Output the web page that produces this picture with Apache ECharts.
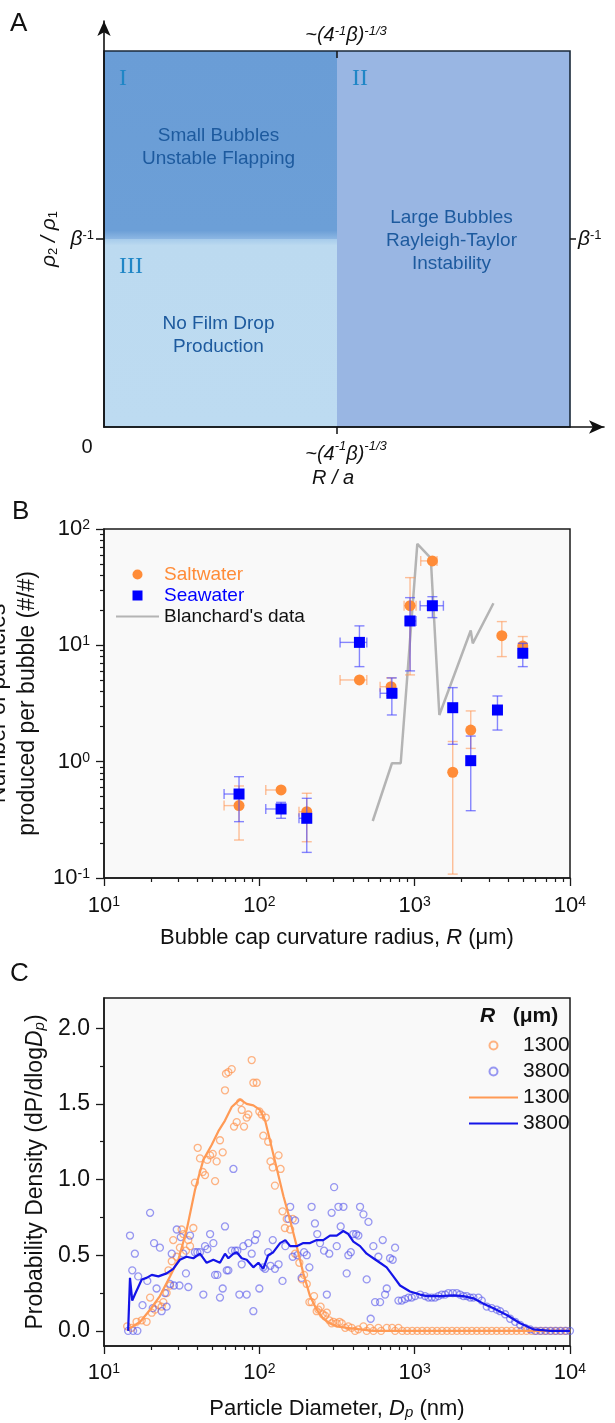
<!DOCTYPE html>
<html><head><meta charset="utf-8">
<script src="https://cdn.jsdelivr.net/npm/echarts@6/dist/echarts.min.js"></script>
<style>html,body{margin:0;padding:0;background:#fff}#c{width:615px;height:1423px}</style>
</head><body><div id="c"></div>
<script>
// ---------- Panel A: regime map (schematic units) ----------
const regimeNames = ['I', 'II', 'III'];
const regimeX0 = [0, 1, 0];
const regimeX1 = [1, 2, 1];
const regimeY0 = [1, 0, 0];
const regimeY1 = [2, 2, 1];
const regimeLines = [['Small Bubbles', 'Unstable Flapping'], ['Large Bubbles', 'Rayleigh-Taylor', 'Instability'], ['No Film Drop', 'Production']];
const frameBox = [[0, 2, 0, 2]];
const aTickX = [1];
const aTickY = [1];

// ---------- Panel B: particles per bubble ----------
const saltR   = [74, 138, 202, 441, 705, 934, 1300, 1758, 2296, 3640, 4966];
const saltN   = [0.419, 0.571, 0.372, 5.04, 4.41, 21.9, 53.2, 0.811, 1.87, 12.1, 9.89];
const saltNLo = [0.212, 0.571, 0.205, 5.04, 3.7, 5.57, 53.2, 0.108, 1.3, 8.0, 8.6];
const saltNHi = [0.618, 0.571, 0.535, 5.04, 5.25, 38.2, 53.2, 1.49, 2.73, 16.0, 11.9];
const saltRLo = [59.3, 110, 180, 331, 599, 855, 1094, 1758, 2296, 3640, 4966];
const saltRHi = [74, 138, 202, 492, 705, 1021, 1393, 1758, 2296, 3640, 4966];

const seaR   = [74, 138, 202, 441, 713, 934, 1300, 1758, 2296, 3412, 4966];
const seaN   = [0.527, 0.392, 0.326, 10.6, 3.87, 16.2, 21.9, 2.91, 1.02, 2.78, 8.55];
const seaNLo = [0.305, 0.326, 0.166, 6.56, 2.52, 6.03, 17.3, 1.41, 0.379, 1.87, 6.56];
const seaNHi = [0.743, 0.447, 0.484, 14.7, 5.25, 25.7, 26.2, 4.33, 1.66, 3.67, 10.4];
const seaRLo = [59.3, 110, 180, 331, 599, 867, 1084, 1758, 2296, 3412, 4966];
const seaRHi = [74, 138, 202, 492, 767, 1021, 1531, 1758, 2296, 3412, 4966];

const blanchardR = [537, 714, 813, 1040, 1270, 1442, 2296, 2366, 3215];
const blanchardN = [0.309, 0.969, 0.969, 74.5, 56.1, 2.52, 13.4, 10.4, 23.0];

// ---------- Panel C: size distributions ----------
const c1300D = [14.1,15.1,16.2,17.5,18.8,19.8,20.3,21.3,22.4,23.5,24.1,25.3,26.0,26.6,27.3,27.9,29.4,30.8,31.6,32.4,33.7,34.9,35.8,37.6,38.5,40.1,41.5,43.2,44.7,46.2,48.2,50.1,51.9,53.1,55.8,58.1,60.1,61.0,63.2,66.4,68.7,71.5,75.1,77.0,79.7,82.9,85.0,89.3,91.5,96.2,100,103.5,106,110,114,118,122,126,133,137,141,146,150,158,164,170,181,188,194,202,210,217,225,234,240,248,256,265,272,282,292,300,315,328,339,357,374,393,413,434,468,491,516,543,584,608,661,716,748,786,
  832,895,964,1038,1117,1202,1294,1393,1500,1614,1738,1871,2014,2168,2333,2512,2704,2911,3133,3373,3631,3908,4207,4529,4875,5248,5649,6081,6546,7047,7586,8166,8790,9462];
const c1300P = [0.03,0.02,0.06,0.07,0.06,0.22,0.12,0.14,0.17,0.16,0.19,0.25,0.40,0.30,0.46,0.60,0.49,0.55,0.67,0.64,0.53,0.60,0.56,0.68,0.98,1.21,1.14,1.05,1.03,1.13,1.16,1.17,0.99,1.12,1.26,1.18,1.59,1.70,1.71,1.73,1.35,1.38,1.51,1.46,1.35,1.41,1.43,1.79,1.64,1.64,1.45,1.43,1.29,1.41,1.25,1.12,1.08,0.96,1.16,1.07,0.79,0.68,0.74,0.67,0.74,0.51,0.45,0.34,0.37,0.31,0.19,0.19,0.23,0.13,0.14,0.16,0.11,0.10,0.12,0.07,0.05,0.06,0.05,0.06,0.05,0.02,0.03,0.02,0.00,0.01,0.03,0.00,0.02,0.00,0.02,0.00,0.02,0.02,0.00,0.02,
  0,0,0,0,0,0,0,0,0,0,0,0,0,0,0,0,0,0,0,0,0,0,0,0,0,0,0,0,0,0,0,0,0,0];
const c3800D = [14.3,15.4,16.4,14.7,15.2,15.8,16.6,17.7,19.0,19.8,20.6,21.0,21.8,22.9,23.5,24.7,25.3,26.6,27.3,28.2,29.4,30.6,31.2,32.4,33.7,34.9,35.8,38.5,39.9,41.5,43.6,44.7,46.3,48.2,50.6,51.9,53.7,55.8,58.1,60.1,61.7,63.2,66.4,68.1,69.8,72.2,74.4,77.0,78.9,82.9,85.0,89.3,91.5,93.8,96.2,100,106,109,114,118,122,126,133,141,147,154,158,164,170,176,187,194,202,210,217,228,236,246,261,272,282,292,303,315,323,334,348,365,374,388,403,420,434,445,468,491,504,521,542,556,584,599,623,645,661,694,722,748,786,
  826,867,911,957,1006,1084,1167,1226,1288,1353,1422,1494,1570,1649,1759,1866,1960,2060,2164,2274,2389,2573,2704,2911,3135,3377,3548,3822,4116,4433,4774,5142,5538,5964,6424,6918,7451,8025,8643,9309,10000];
const c3800P = [0,0,0,0.63,0.40,0.51,0.36,0.17,0.33,0.78,0.15,0.58,0.28,0.55,0.13,0.25,0.16,0.31,0.51,0.30,0.67,0.30,0.62,0.51,0.38,0.29,0.63,0.52,0.52,0.52,0.24,0.56,0.54,0.64,0.58,0.37,0.37,0.22,0.28,0.69,0.40,0.40,0.53,1.07,0.53,0.53,0.24,0.44,0.56,0.24,0.58,0.51,0.13,0.60,0.64,0.28,0.42,0.41,0.52,0.43,0.60,0.41,0.44,0.33,0.56,0.74,0.82,0.49,0.73,0.50,0.35,0.52,0.50,0.42,0.82,0.71,0.64,0.58,0.53,0.24,0.51,0.78,0.95,0.56,0.82,0.69,0.82,0.38,0.50,0.52,0.64,0.64,0.63,0.82,0.77,0.34,0.72,0.08,0.56,0.19,0.49,0.19,0.60,0.24,0.28,0.48,0.47,0.55,0.20,
  0.20,0.21,0.22,0.22,0.23,0.24,0.23,0.22,0.22,0.22,0.23,0.24,0.24,0.25,0.25,0.25,0.24,0.23,0.23,0.22,0.22,0.22,0.20,0.16,0.15,0.14,0.13,0.11,0.08,0.06,0.04,0.02,0.01,0,0,0,0,0,0,0,0];
const l1300D = [14.3,17.1,19.8,22.9,26.6,30.1,34.1,38.5,43.6,49.4,54.5,60.1,66.4,71.5,75.1,82.9,91.5,101,109,117,129,143,158,174,192,212,234,258,285,315,366,445,542,1000,10000];
const l1300P = [0.01,0.06,0.14,0.23,0.36,0.47,0.67,0.93,1.13,1.23,1.32,1.39,1.48,1.51,1.53,1.50,1.49,1.46,1.39,1.26,1.08,0.89,0.73,0.56,0.38,0.23,0.14,0.08,0.05,0.03,0.02,0.01,0,0,0];
const l3800D = [14.3,14.7,15.2,15.8,17.5,18.8,20.3,22.4,25.3,27.9,30.8,34.0,37.6,41.5,45.8,50.6,55.8,60.1,63.2,68.1,71.5,77.0,82.9,91.5,98.6,106,114,123,136,147,158,174,192,212,234,258,285,315,347,374,403,445,491,542,598,660,729,805,933,1083,1196,1458,1776,2060,2389,2772,3216,3916,4773,5812,7442,9530,10000];
const l3800P = [0.00,0.35,0.20,0.24,0.34,0.35,0.37,0.36,0.38,0.41,0.47,0.49,0.48,0.51,0.45,0.47,0.45,0.51,0.48,0.51,0.52,0.48,0.47,0.42,0.45,0.41,0.50,0.52,0.58,0.60,0.56,0.56,0.58,0.58,0.60,0.60,0.63,0.63,0.66,0.64,0.59,0.56,0.51,0.48,0.45,0.42,0.36,0.30,0.26,0.24,0.23,0.23,0.235,0.23,0.215,0.18,0.15,0.105,0.05,0.01,0,0,0];
const cMajorY = [0, 0.5, 1.0, 1.5, 2.0];
const cMinorY = [0.25, 0.75, 1.25, 1.75];

// ---------- helpers ----------
const FONT = "'Liberation Sans', Arial, Helvetica, sans-serif";
const zip = (a, b) => a.map((v, i) => [v, b[i]]);
function minorLogTicks(d0, d1) {
  const out = [];
  for (let d = d0; d < d1; d++) for (let k = 2; k <= 9; k++) out.push(d + Math.log10(k));
  return out;
}
const powRich = {
  b: { fontSize: 22, fontFamily: FONT, color: '#111' },
  s: { fontSize: 14, fontFamily: FONT, color: '#111', verticalAlign: 'top' }
};
const powFmt = v => '{b|10}{s|' + Math.round(Math.log10(v)) + '}';
const axLine = { onZero: false, lineStyle: { color: '#1a1a1a', width: 1.5 } };
const regimeFill = [
  { type: 'linear', x: 0, y: 0, x2: 0, y2: 1, colorStops: [{ offset: 0, color: '#6a9dd6' }, { offset: 0.955, color: '#6c9fd7' }, { offset: 1, color: '#8db7e3' }] },
  '#99b6e3',
  { type: 'linear', x: 0, y: 0, x2: 0, y2: 1, colorStops: [{ offset: 0, color: '#a6cbeb' }, { offset: 0.035, color: '#bcdaf0' }, { offset: 1, color: '#bddbf1' }] }
];
function errRender(color) {
  return function (params, api) {
    const x = api.value(0), y = api.value(1);
    const xl = api.value(2), xh = api.value(3), yl = api.value(4), yh = api.value(5);
    const c = api.coord([x, y]);
    const st = { stroke: color, lineWidth: 1.4 };
    const kids = [];
    const cap = 5;
    if (yl !== y || yh !== y) {
      const pl = api.coord([x, yl]), ph = api.coord([x, yh]);
      kids.push({ type: 'line', shape: { x1: c[0], y1: pl[1], x2: c[0], y2: ph[1] }, style: st });
      if (yl !== y) kids.push({ type: 'line', shape: { x1: c[0] - cap, y1: pl[1], x2: c[0] + cap, y2: pl[1] }, style: st });
      if (yh !== y) kids.push({ type: 'line', shape: { x1: c[0] - cap, y1: ph[1], x2: c[0] + cap, y2: ph[1] }, style: st });
    }
    if (xl !== x || xh !== x) {
      const pl = api.coord([xl, y]), ph = api.coord([xh, y]);
      kids.push({ type: 'line', shape: { x1: pl[0], y1: c[1], x2: ph[0], y2: c[1] }, style: st });
      if (xl !== x) kids.push({ type: 'line', shape: { x1: pl[0], y1: c[1] - cap, x2: pl[0], y2: c[1] + cap }, style: st });
      if (xh !== x) kids.push({ type: 'line', shape: { x1: ph[0], y1: c[1] - cap, x2: ph[0], y2: c[1] + cap }, style: st });
    }
    return { type: 'group', children: kids };
  };
}
const aBottomRich = {
  z: { fontSize: 20, color: '#111', padding: [0, 34, 0, 0] },
  t0: { fontSize: 20, fontStyle: 'italic', color: '#111', lineHeight: 34, padding: [0, 0, 0, 18] },
  t: { fontSize: 20, fontStyle: 'italic', color: '#111', lineHeight: 34 },
  sp: { fontSize: 13, fontStyle: 'italic', color: '#111', verticalAlign: 'top', padding: [3, 0, 0, 0] }
};
const aTopRich = {
  t0: { fontSize: 20, fontStyle: 'italic', color: '#111', padding: [0, 0, 0, 18] },
  t: { fontSize: 20, fontStyle: 'italic', color: '#111' },
  sp: { fontSize: 13, fontStyle: 'italic', color: '#111', verticalAlign: 'top' }
};
const betaRich = { b: { fontSize: 21, fontStyle: 'italic', color: '#111' }, sp: { fontSize: 13, color: '#111', verticalAlign: 'top' } };

const chart = echarts.init(document.getElementById('c'), null, { renderer: 'canvas', width: 615, height: 1423 });

const option = {
  animation: false,
  backgroundColor: '#ffffff',
  textStyle: { fontFamily: FONT },
  title: [
    { text: 'A', left: 10, top: 11, padding: 0, textStyle: { fontSize: 26, fontWeight: 'normal', color: '#111', fontFamily: FONT } },
    { text: 'B', left: 12, top: 499, padding: 0, textStyle: { fontSize: 26, fontWeight: 'normal', color: '#111', fontFamily: FONT } },
    { text: 'C', left: 10, top: 961, padding: 0, textStyle: { fontSize: 26, fontWeight: 'normal', color: '#111', fontFamily: FONT } },
    { text: '{i|R}{n|   (μm)}', left: 480, top: 1006, padding: 0,
      textStyle: { rich: { i: { fontSize: 21, fontStyle: 'italic', color: '#111', fontFamily: FONT }, n: { fontSize: 21, color: '#111', fontFamily: FONT } } } }
  ],
  grid: [
    { left: 104, top: 21, width: 500, height: 406, outerBoundsMode: 'none', containLabel: false },
    { left: 104, top: 529, width: 466, height: 349, outerBoundsMode: 'none', containLabel: false,
      show: true, borderColor: '#1a1a1a', borderWidth: 1.5, backgroundColor: '#f9f9f9' },
    { left: 104, top: 998, width: 466, height: 348, outerBoundsMode: 'none', containLabel: false,
      show: true, borderColor: '#1a1a1a', borderWidth: 1.5, backgroundColor: '#f9f9f9' }
  ],
  legend: [
    { orient: 'vertical', left: 110, top: 560, itemWidth: 43, itemHeight: 10, itemGap: 2, selectedMode: false,
      textStyle: { fontSize: 19, fontFamily: FONT, color: '#111' },
      data: [{ name: 'Saltwater', textStyle: { color: '#ff8c38' } },
             { name: 'Seawater', icon: 'path://M0,0L10,0L10,10L0,10Z', textStyle: { color: '#0000ff' } },
             { name: "Blanchard's data", itemStyle: { opacity: 0 } }] },
    { orient: 'vertical', left: 463, top: 1030, itemWidth: 49, itemHeight: 8, itemGap: 5, selectedMode: false,
      textStyle: { fontSize: 21, fontFamily: FONT, color: '#111' },
      data: ['1300', '3800', { name: '1300\u200b', itemStyle: { opacity: 0 } }, { name: '3800\u200b', itemStyle: { opacity: 0 } }] }
  ],
  xAxis: [
    // A bottom
    { gridIndex: 0, type: 'value', min: 0, max: 2 * 500 / 466, z: 10,
      axisLine: { show: true, onZero: false, symbol: ['none', 'arrow'], symbolSize: [10, 15], lineStyle: { color: '#111', width: 1.6 } },
      axisTick: { show: true, customValues: aTickX, length: 7, lineStyle: { color: '#111', width: 1.5 } },
      axisLabel: { customValues: [0].concat(aTickX), margin: 10,
        formatter: v => v === 0 ? '{z|0}' : '{t0|~(4}{sp|-1}{t|β)}{sp|-1/3}', rich: aBottomRich },
      splitLine: { show: false },
      name: '{i|R / a}', nameLocation: 'middle', nameGap: 41,
      nameTextStyle: { padding: [0, 42, 0, 0], rich: { i: { fontSize: 20, fontStyle: 'italic', color: '#111' } } } },
    // A top
    { gridIndex: 0, type: 'value', position: 'top', offset: -30, min: 0, max: 2 * 500 / 466, z: 10,
      axisLine: { show: false, onZero: false },
      axisTick: { show: true, inside: true, customValues: aTickX, length: 7, lineStyle: { color: '#111', width: 1.5 } },
      axisLabel: { customValues: aTickX, margin: 6, formatter: () => '{t0|~(4}{sp|-1}{t|β)}{sp|-1/3}', rich: aTopRich },
      splitLine: { show: false } },
    // B main
    { gridIndex: 1, type: 'log', logBase: 10, min: 10, max: 10000,
      axisLine: axLine, axisTick: { length: 8, lineStyle: { color: '#1a1a1a', width: 1.3 } },
      axisLabel: { formatter: powFmt, rich: powRich, margin: 17 }, splitLine: { show: false },
      name: '{n|Bubble cap curvature radius, }{i|R}{n| (μm)}', nameLocation: 'middle', nameGap: 49,
      nameTextStyle: { rich: { n: { fontSize: 22, color: '#111' }, i: { fontSize: 22, fontStyle: 'italic', color: '#111' } } } },
    // B minor
    { gridIndex: 1, type: 'value', position: 'bottom', min: 1, max: 4, axisLine: { show: false, onZero: false },
      axisTick: { show: true, customValues: minorLogTicks(1, 4), length: 4, lineStyle: { color: '#1a1a1a', width: 1.2 } },
      axisLabel: { show: false }, splitLine: { show: false } },
    // C main
    { gridIndex: 2, type: 'log', logBase: 10, min: 10, max: 10000,
      axisLine: axLine, axisTick: { length: 8, lineStyle: { color: '#1a1a1a', width: 1.3 } },
      axisLabel: { formatter: powFmt, rich: powRich, margin: 16 }, splitLine: { show: false },
      name: '{n|Particle Diameter, }{i|D}{sb|p}{n| (nm)}', nameLocation: 'middle', nameGap: 52,
      nameTextStyle: { rich: { n: { fontSize: 22, color: '#111' }, i: { fontSize: 22, fontStyle: 'italic', color: '#111' },
        sb: { fontSize: 15, fontStyle: 'italic', color: '#111', verticalAlign: 'bottom' } } } },
    // C minor
    { gridIndex: 2, type: 'value', position: 'bottom', min: 1, max: 4, axisLine: { show: false, onZero: false },
      axisTick: { show: true, customValues: minorLogTicks(1, 4), length: 4, lineStyle: { color: '#1a1a1a', width: 1.2 } },
      axisLabel: { show: false }, splitLine: { show: false } }
  ],
  yAxis: [
    // A left
    { gridIndex: 0, type: 'value', min: 0, max: 2 * 406 / 376, z: 10,
      axisLine: { show: true, onZero: false, symbol: ['none', 'arrow'], symbolSize: [10, 15], lineStyle: { color: '#111', width: 1.6 } },
      axisTick: { show: true, customValues: aTickY, length: 8, lineStyle: { color: '#111', width: 1.5 } },
      axisLabel: { customValues: aTickY, margin: 10, formatter: () => '{b|β}{sp|-1}', rich: betaRich },
      splitLine: { show: false },
      name: '{r|ρ}{sb|2}{r| / ρ}{sb|1}', nameLocation: 'middle', nameRotate: 90, nameGap: 41,
      nameTextStyle: { padding: [0, 30, 0, 0], rich: { r: { fontSize: 21, fontStyle: 'italic', color: '#111' }, sb: { fontSize: 13, color: '#111', verticalAlign: 'bottom' } } } },
    // A right
    { gridIndex: 0, type: 'value', position: 'right', offset: -34, min: 0, max: 2 * 406 / 376, z: 10,
      axisLine: { show: false, onZero: false },
      axisTick: { show: true, customValues: aTickY, length: 6, lineStyle: { color: '#111', width: 1.5 } },
      axisLabel: { customValues: aTickY, margin: 8, formatter: () => '{b|β}{sp|-1}', rich: betaRich },
      splitLine: { show: false } },
    // B main
    { gridIndex: 1, type: 'log', logBase: 10, min: 0.1, max: 100,
      axisLine: axLine, axisTick: { length: 8, lineStyle: { color: '#1a1a1a', width: 1.3 } },
      axisLabel: { formatter: powFmt, rich: powRich, margin: 14 }, splitLine: { show: false },
      name: 'Number of particles\nproduced per bubble (#/#)', nameLocation: 'middle', nameGap: 57,
      nameTextStyle: { fontSize: 23, lineHeight: 29, color: '#111' } },
    // B minor
    { gridIndex: 1, type: 'value', position: 'left', min: -1, max: 2, axisLine: { show: false, onZero: false },
      axisTick: { show: true, customValues: minorLogTicks(-1, 2), length: 4, lineStyle: { color: '#1a1a1a', width: 1.2 } },
      axisLabel: { show: false }, splitLine: { show: false } },
    // C main
    { gridIndex: 2, type: 'value', min: -0.1, max: 2.2,
      axisLine: axLine, axisTick: { show: true, customValues: cMajorY, length: 8, lineStyle: { color: '#1a1a1a', width: 1.3 } },
      axisLabel: { customValues: cMajorY, formatter: v => v.toFixed(1), fontSize: 23, color: '#111', margin: 14 },
      splitLine: { show: false },
      name: '{n|Probability Density (dP/dlog}{i|D}{sb|p}{n|)}', nameLocation: 'middle', nameGap: 56,
      nameTextStyle: { rich: { n: { fontSize: 23, color: '#111' }, i: { fontSize: 23, fontStyle: 'italic', color: '#111' },
        sb: { fontSize: 15, fontStyle: 'italic', color: '#111', verticalAlign: 'bottom' } } } },
    // C minor
    { gridIndex: 2, type: 'value', position: 'left', min: -0.1, max: 2.2, axisLine: { show: false, onZero: false },
      axisTick: { show: true, customValues: cMinorY, length: 4, lineStyle: { color: '#1a1a1a', width: 1.2 } },
      axisLabel: { show: false }, splitLine: { show: false } }
  ],
  series: [
    // ----- A -----
    { type: 'custom', name: 'regimes', xAxisIndex: 0, yAxisIndex: 0, silent: true, clip: false,
      data: regimeNames.map((n, i) => [regimeX0[i], regimeX1[i], regimeY0[i], regimeY1[i]]),
      encode: { x: [0, 1], y: [2, 3] },
      renderItem: function (params, api) {
        const i = params.dataIndex;
        const tl = api.coord([api.value(0), api.value(3)]);
        const br = api.coord([api.value(1), api.value(2)]);
        const w = br[0] - tl[0], h = br[1] - tl[1];
        return { type: 'group', children: [
          { type: 'rect', shape: { x: tl[0], y: tl[1], width: w, height: h }, style: { fill: regimeFill[i] } },
          { type: 'text', style: { text: regimeNames[i], x: tl[0] + 15, y: tl[1] + 28, fill: '#1f86c6',
              fontSize: 24, fontFamily: "'Liberation Serif', 'Times New Roman', serif", align: 'left', verticalAlign: 'middle' } },
          { type: 'text', style: { text: regimeLines[i].join('\n'), x: tl[0] + w / 2 - 2, y: tl[1] + h / 2 + 2, fill: '#1d5a9e',
              fontSize: 19, fontFamily: FONT, align: 'center', verticalAlign: 'middle', lineHeight: 23 } }
        ] };
      } },
    { type: 'custom', name: 'frame', xAxisIndex: 0, yAxisIndex: 0, silent: true, clip: false,
      data: frameBox, encode: { x: [0, 1], y: [2, 3] },
      renderItem: function (params, api) {
        const tl = api.coord([api.value(0), api.value(3)]);
        const br = api.coord([api.value(1), api.value(2)]);
        return { type: 'rect', shape: { x: tl[0], y: tl[1], width: br[0] - tl[0], height: br[1] - tl[1] },
          style: { fill: 'none', stroke: '#1b2a3a', lineWidth: 1.6 } };
      } },
    // ----- B -----
    { type: 'line', name: "Blanchard's data", xAxisIndex: 2, yAxisIndex: 2, data: zip(blanchardR, blanchardN),
      symbol: 'none', lineStyle: { color: '#b4b4b4', width: 2.5 }, itemStyle: { color: '#b4b4b4' }, z: 2 },
    { type: 'custom', name: 'saltErr', xAxisIndex: 2, yAxisIndex: 2, silent: true, z: 3,
      data: saltR.map((r, i) => [r, saltN[i], saltRLo[i], saltRHi[i], saltNLo[i], saltNHi[i]]),
      encode: { x: 0, y: 1 }, renderItem: errRender('rgba(255,150,85,0.6)') },
    { type: 'scatter', name: 'Saltwater', xAxisIndex: 2, yAxisIndex: 2, data: zip(saltR, saltN),
      symbol: 'circle', symbolSize: 11, itemStyle: { color: '#ff8c38', opacity: 1 }, z: 4 },
    { type: 'custom', name: 'seaErr', xAxisIndex: 2, yAxisIndex: 2, silent: true, z: 5,
      data: seaR.map((r, i) => [r, seaN[i], seaRLo[i], seaRHi[i], seaNLo[i], seaNHi[i]]),
      encode: { x: 0, y: 1 }, renderItem: errRender('rgba(70,70,255,0.65)') },
    { type: 'scatter', name: 'Seawater', xAxisIndex: 2, yAxisIndex: 2, data: zip(seaR, seaN),
      symbol: 'rect', symbolSize: 11, itemStyle: { color: '#0000ff', opacity: 1 }, z: 6 },
    // ----- C -----
    { type: 'scatter', name: '1300', xAxisIndex: 4, yAxisIndex: 4, data: zip(c1300D, c1300P),
      symbol: 'circle', symbolSize: 7, itemStyle: { color: 'rgba(0,0,0,0)', borderColor: 'rgba(255,145,75,0.85)', borderWidth: 1.3 }, z: 2 },
    { type: 'scatter', name: '3800', xAxisIndex: 4, yAxisIndex: 4, data: zip(c3800D, c3800P),
      symbol: 'circle', symbolSize: 7, itemStyle: { color: 'rgba(0,0,0,0)', borderColor: 'rgba(85,85,235,0.75)', borderWidth: 1.3 }, z: 2 },
    { type: 'line', name: '1300\u200b', xAxisIndex: 4, yAxisIndex: 4, data: zip(l1300D, l1300P),
      symbol: 'none', lineStyle: { color: '#ff9a55', width: 2.2 }, itemStyle: { color: '#ff9a55' }, z: 3 },
    { type: 'line', name: '3800\u200b', xAxisIndex: 4, yAxisIndex: 4, data: zip(l3800D, l3800P),
      symbol: 'none', lineStyle: { color: '#1414e8', width: 2.2 }, itemStyle: { color: '#1414e8' }, z: 3 }
  ]
};
chart.setOption(option);
</script>
</body></html>
